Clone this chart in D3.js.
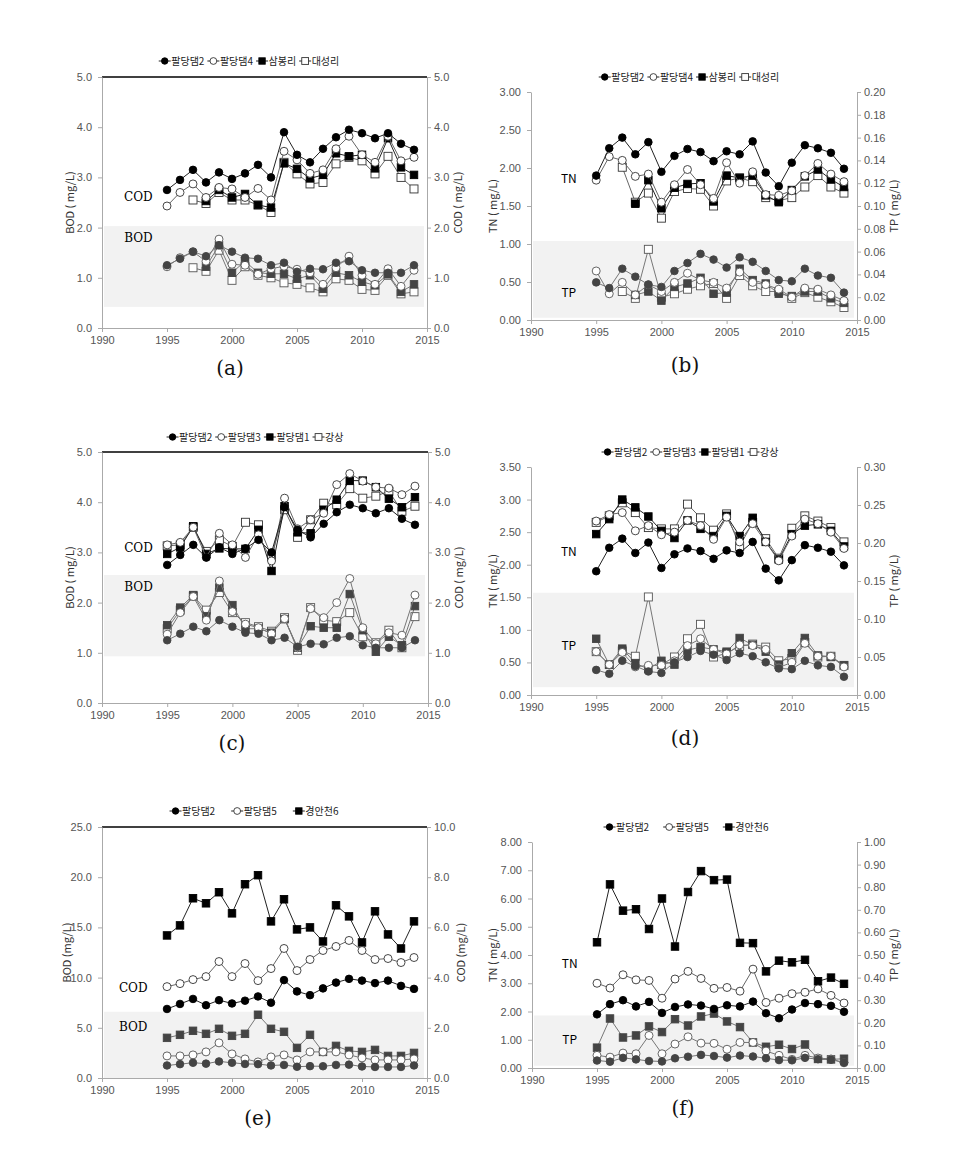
<!DOCTYPE html>
<html><head><meta charset="utf-8">
<script src="https://cdn.jsdelivr.net/npm/d3@7"></script>
<style>body{margin:0;background:#fff;} svg{display:block;}</style>
</head><body><svg id="c" width="953" height="1162"></svg>
<script>
// ---------------- DATA ----------------
const years = [1995,1996,1997,1998,1999,2000,2001,2002,2003,2004,2005,2006,2007,2008,2009,2010,2011,2012,2013,2014];
const xTicks = [1990,1995,2000,2005,2010,2015];

// 팔당댐2
const p2COD = [2.75,2.95,3.15,2.90,3.10,2.97,3.08,3.25,3.00,3.90,3.45,3.30,3.57,3.80,3.95,3.88,3.78,3.88,3.67,3.55];
const p2BOD = [1.25,1.38,1.52,1.43,1.65,1.52,1.40,1.38,1.25,1.30,1.12,1.18,1.17,1.30,1.33,1.15,1.10,1.10,1.10,1.25];
const p2TN  = [1.90,2.26,2.40,2.18,2.34,1.95,2.16,2.25,2.21,2.09,2.22,2.18,2.35,1.94,1.76,2.07,2.30,2.26,2.20,1.99];
const p2TP  = [0.033,0.028,0.045,0.038,0.031,0.029,0.043,0.050,0.058,0.053,0.046,0.055,0.051,0.043,0.035,0.034,0.045,0.039,0.037,0.024];
// 팔당댐4
const p4COD = [2.43,2.70,2.87,2.60,2.80,2.77,2.60,2.78,2.55,3.52,3.35,3.08,3.15,3.57,3.82,3.45,3.30,3.82,3.33,3.40];
const p4BOD = [1.22,1.40,1.52,1.33,1.77,1.27,1.25,1.07,1.18,1.23,1.17,1.10,0.87,1.20,1.43,1.05,0.87,1.18,0.83,1.15];
const p4TN  = [1.84,2.15,2.10,1.89,1.92,1.55,1.78,1.98,1.78,1.60,2.07,1.80,1.95,1.65,1.64,1.70,1.90,2.06,1.92,1.82];
const p4TP  = [0.043,0.023,0.033,0.022,0.031,0.025,0.033,0.041,0.035,0.033,0.028,0.042,0.033,0.031,0.027,0.020,0.028,0.027,0.022,0.017];
// 삼봉리
const sbCOD = [null,null,null,2.53,2.75,2.60,2.67,2.45,2.40,3.28,3.17,2.98,3.05,3.48,3.42,3.45,3.18,3.78,3.20,3.05];
const sbBOD = [null,null,null,1.22,1.65,1.10,1.33,1.10,1.08,1.08,0.98,1.05,0.78,1.10,1.05,0.92,0.85,1.07,0.72,0.87];
const sbTN  = [null,null,null,1.53,1.84,1.47,1.74,1.79,1.80,1.56,1.90,1.87,1.90,1.64,1.55,1.71,1.89,1.98,1.85,1.75];
const sbTP  = [null,null,null,0.022,0.025,0.017,0.029,0.032,0.037,0.023,0.024,0.045,0.035,0.032,0.023,0.021,0.025,0.025,0.019,0.015];
// 대성리
const dsCOD = [null,null,2.55,2.48,2.70,2.55,2.55,2.45,2.30,3.30,3.07,2.87,2.90,3.27,3.40,3.33,3.07,3.42,3.00,2.77];
const dsBOD = [null,null,1.20,1.13,1.55,0.95,1.22,1.05,1.00,0.90,0.87,0.80,0.72,0.98,0.95,0.77,0.75,1.05,0.68,0.72];
const dsTN  = [null,null,2.01,1.55,1.67,1.34,1.69,1.73,1.72,1.50,1.83,1.87,1.82,1.61,1.57,1.61,1.75,1.90,1.75,1.67];
const dsTP  = [null,null,0.025,0.019,0.062,0.020,0.023,0.027,0.030,0.032,0.019,0.039,0.030,0.025,0.025,0.019,0.024,0.020,0.016,0.011];
// 팔당댐3
const p3COD = [3.15,3.20,3.50,2.90,3.38,3.15,2.90,3.35,2.83,4.08,3.47,3.65,3.78,4.35,4.57,4.42,4.30,4.28,4.15,4.32];
const p3BOD = [1.37,1.80,2.12,1.65,2.43,1.82,1.57,1.50,1.38,1.68,1.10,1.88,1.70,2.00,2.48,1.50,1.18,1.40,1.35,2.15];
const p3TN  = [2.67,2.77,2.80,2.52,2.60,2.46,2.50,2.68,2.60,2.39,2.73,2.35,2.63,2.35,2.06,2.44,2.70,2.63,2.50,2.25];
const p3TP  = [0.057,0.040,0.056,0.037,0.039,0.039,0.045,0.065,0.074,0.060,0.054,0.066,0.065,0.060,0.036,0.043,0.068,0.051,0.051,0.037];
// 팔당댐1
const p1COD = [2.97,3.10,3.52,2.97,3.08,3.07,3.07,3.45,2.63,3.92,3.40,3.38,3.85,4.05,4.43,4.43,4.30,4.07,3.90,4.10];
const p1BOD = [1.55,1.90,2.15,1.73,2.30,1.95,1.48,1.48,1.40,1.67,1.10,1.53,1.50,1.50,2.17,1.45,1.02,1.32,1.15,1.93];
const p1TN  = [2.47,2.70,3.00,2.88,2.74,2.52,2.41,2.68,2.55,2.44,2.75,2.44,2.72,2.35,2.08,2.47,2.60,2.62,2.52,2.28];
const p1TP  = [0.074,0.040,0.061,0.042,0.034,0.045,0.040,0.059,0.063,0.060,0.057,0.075,0.066,0.057,0.040,0.055,0.075,0.052,0.050,0.039];
// 강상
const gsCOD = [3.13,3.15,3.50,3.02,3.25,3.12,3.60,3.55,2.92,3.85,3.30,3.65,3.98,3.95,4.27,4.08,4.12,4.22,3.82,3.92];
const gsBOD = [1.48,1.85,2.13,1.85,2.20,1.80,1.60,1.52,1.43,1.70,1.05,1.90,1.65,1.62,1.80,1.32,1.20,1.45,1.10,1.72];
const gsTN  = [2.65,2.75,2.95,2.80,2.57,2.55,2.55,2.93,2.72,2.53,2.78,2.28,2.65,2.40,2.10,2.56,2.75,2.67,2.57,2.35];
const gsTP  = [0.057,0.040,0.058,0.051,0.129,0.040,0.050,0.074,0.093,0.050,0.055,0.064,0.067,0.063,0.045,0.048,0.069,0.050,0.051,0.039];
// 팔당댐5
const p5COD = [3.64,3.76,3.92,4.04,4.64,4.04,4.56,3.88,4.36,5.16,4.28,4.72,5.08,5.24,5.48,5.08,4.72,4.76,4.60,4.80];
const p5BOD = [2.2,2.2,2.3,2.6,3.5,2.4,1.9,1.6,2.1,2.3,1.8,2.6,2.6,2.6,2.3,2.0,1.8,1.8,1.8,1.9];
const p5TN  = [3.00,2.83,3.30,3.12,3.10,2.47,3.15,3.42,3.17,2.82,2.85,2.72,3.50,2.32,2.47,2.63,2.68,2.80,2.57,2.30];
const p5TP  = [0.056,0.048,0.066,0.063,0.144,0.063,0.106,0.138,0.110,0.109,0.083,0.113,0.113,0.075,0.056,0.038,0.056,0.044,0.040,0.023];
// 경안천6
const kaCOD = [5.68,6.08,7.16,6.96,7.40,6.56,7.72,8.08,6.24,7.12,5.92,6.00,5.44,6.88,6.44,5.40,6.64,5.72,5.16,6.24];
const kaBOD = [4.0,4.3,4.7,4.4,4.9,4.2,4.4,6.3,4.9,4.6,3.0,4.3,2.6,3.2,2.7,2.6,2.8,2.2,2.2,2.5];
const kaTN  = [4.45,6.50,5.57,5.62,4.92,6.00,4.30,6.23,6.97,6.65,6.67,4.43,4.42,3.42,3.80,3.74,3.83,3.07,3.20,2.98];
const kaTP  = [0.090,0.219,0.135,0.144,0.184,0.159,0.216,0.188,0.228,0.241,0.206,0.181,0.113,0.094,0.103,0.084,0.104,0.040,0.038,0.041];

// tick label arrays
const ticks0to5 = [0,1,2,3,4,5];
const ticksTN3 = [0,0.5,1,1.5,2,2.5,3];
const ticksTP02 = [0,0.02,0.04,0.06,0.08,0.10,0.12,0.14,0.16,0.18,0.20];
const ticksTN35 = [0,0.5,1,1.5,2,2.5,3,3.5];
const ticksTP03 = [0,0.05,0.10,0.15,0.20,0.25,0.30];
const ticksBOD25 = [0,5,10,15,20,25];
const ticksCOD10 = [0,2,4,6,8,10];
const ticksTN8 = [0,1,2,3,4,5,6,7,8];
const ticksTP1 = [0,0.1,0.2,0.3,0.4,0.5,0.6,0.7,0.8,0.9,1.0];

// ---------------- LAYOUT ----------------
const svg = d3.select('#c');
const sans = "'Noto Sans CJK KR','DejaVu Sans',sans-serif";
const narrow = "'Liberation Sans Narrow','Liberation Sans',Arial,sans-serif";
const serif = "'DejaVu Serif','Liberation Serif',serif";

const panels = [
 {cap:'(a)', capX:230, capY:375, l:102, r:427, t:77, b:328, topLine:true,
  lD:[0,5], rD:[0,5], lT:ticks0to5, rT:ticks0to5, fL:'.1f', fR:'.1f', upAxis:'R', lowAxis:'L',
  band:[0.42,2.03], lTitle:'BOD ( mg/L)', rTitle:'COD ( mg/L)', upLab:'COD', lowLab:'BOD', labFont:serif,
  upPos:[1992.8,2.62], lowPos:[1992.8,1.8], legY:61, legC:249, legGap:3, lTx:32, rTx:31,
  series:[
   {name:'팔당댐2', m:'fc', up:p2COD, low:p2BOD},
   {name:'팔당댐4', m:'oc', up:p4COD, low:p4BOD},
   {name:'삼봉리', m:'fs', up:sbCOD, low:sbBOD},
   {name:'대성리', m:'os', up:dsCOD, low:dsBOD}]},
 {cap:'(b)', capX:685, capY:372, l:531, r:857, t:92, b:320, topLine:false,
  lD:[0,3], rD:[0,0.2], lT:ticksTN3, rT:ticksTP02, fL:'.2f', fR:'.2f', upAxis:'L', lowAxis:'R',
  band:[0.03,1.04], lTitle:'TN ( mg/L)', rTitle:'TP ( mg/L)', upLab:'TN', lowLab:'TP', labFont:sans,
  upPos:[1992.9,1.86], lowPos:[1992.9,0.36], legY:77, legC:689, legGap:3, lTx:38, rTx:37,
  series:[
   {name:'팔당댐2', m:'fc', up:p2TN, low:p2TP},
   {name:'팔당댐4', m:'oc', up:p4TN, low:p4TP},
   {name:'삼봉리', m:'fs', up:sbTN, low:sbTP},
   {name:'대성리', m:'os', up:dsTN, low:dsTP}]},
 {cap:'(c)', capX:232, capY:750, l:102, r:428, t:452, b:703, topLine:true,
  lD:[0,5], rD:[0,5], lT:ticks0to5, rT:ticks0to5, fL:'.1f', fR:'.1f', upAxis:'R', lowAxis:'L',
  band:[0.93,2.55], lTitle:'BOD ( mg/L)', rTitle:'COD ( mg/L)', upLab:'COD', lowLab:'BOD', labFont:serif,
  upPos:[1992.8,3.1], lowPos:[1992.8,2.32], legY:437, legC:255, legGap:3, lTx:32, rTx:31,
  series:[
   {name:'팔당댐2', m:'fc', up:p2COD, low:p2BOD},
   {name:'팔당댐3', m:'oc', up:p3COD, low:p3BOD},
   {name:'팔당댐1', m:'fs', up:p1COD, low:p1BOD},
   {name:'강상', m:'os', up:gsCOD, low:gsBOD}]},
 {cap:'(d)', capX:685, capY:745, l:531, r:857, t:467, b:695, topLine:false,
  lD:[0,3.5], rD:[0,0.3], lT:ticksTN35, rT:ticksTP03, fL:'.2f', fR:'.2f', upAxis:'L', lowAxis:'R',
  band:[0.12,1.57], lTitle:'TN ( mg/L)', rTitle:'TP ( mg/L)', upLab:'TN', lowLab:'TP', labFont:sans,
  upPos:[1992.9,2.2], lowPos:[1992.9,0.76], legY:452, legC:690, legGap:3, lTx:38, rTx:37,
  series:[
   {name:'팔당댐2', m:'fc', up:p2TN, low:p2TP},
   {name:'팔당댐3', m:'oc', up:p3TN, low:p3TP},
   {name:'팔당댐1', m:'fs', up:p1TN, low:p1TP},
   {name:'강상', m:'os', up:gsTN, low:gsTP}]},
 {cap:'(e)', capX:258, capY:1125, l:102, r:427, t:827, b:1078, topLine:true,
  lD:[0,25], rD:[0,10], lT:ticksBOD25, rT:ticksCOD10, fL:'.1f', fR:'.1f', upAxis:'R', lowAxis:'L',
  band:[0,6.6], lTitle:'BOD (mg/L)', rTitle:'COD (mg/L)', upLab:'COD', lowLab:'BOD', labFont:serif,
  upPos:[1992.4,9.0], lowPos:[1992.4,5.1], legY:811, legC:254, legGap:16, lTx:35, rTx:34,
  series:[
   {name:'팔당댐2', m:'fc', up:p2COD, low:p2BOD},
   {name:'팔당댐5', m:'oc', up:p5COD, low:p5BOD},
   {name:'경안천6', m:'fs', up:kaCOD, low:kaBOD}]},
 {cap:'(f)', capX:683, capY:1115, l:532, r:857, t:842, b:1068, topLine:false,
  lD:[0,8], rD:[0,1], lT:ticksTN8, rT:ticksTP1, fL:'.2f', fR:'.2f', upAxis:'L', lowAxis:'R',
  band:[0.08,1.86], lTitle:'TN ( mg/L)', rTitle:'TP ( mg/L)', upLab:'TN', lowLab:'TP', labFont:sans,
  upPos:[1992.9,3.7], lowPos:[1992.9,1.0], legY:827, legC:686, legGap:14, lTx:39, rTx:37,
  series:[
   {name:'팔당댐2', m:'fc', up:p2TN, low:p2TP},
   {name:'팔당댐5', m:'oc', up:p5TN, low:p5TP},
   {name:'경안천6', m:'fs', up:kaTN, low:kaTP}]}
];

function marker(sel, type, cx, cy, lower, sc) {
  sc = sc || 1;
  const filled = type[0] === 'f';
  const fill = filled ? (lower ? '#444' : '#000') : '#fff';
  const stroke = filled ? (lower ? '#444' : '#000') : (lower ? '#555' : '#333');
  if (type[1] === 'c') {
    sel.append('circle').attr('cx', cx).attr('cy', cy).attr('r', (filled ? 3.8 : 4) * sc)
      .attr('fill', fill).attr('stroke', stroke).attr('stroke-width', 0.9);
  } else {
    const s = (filled ? 7.5 : 8) * sc;
    sel.append('rect').attr('x', cx - s/2).attr('y', cy - s/2).attr('width', s).attr('height', s)
      .attr('fill', fill).attr('stroke', stroke).attr('stroke-width', 0.9);
  }
}

function styleAxis(g) {
  g.selectAll('.domain').attr('stroke', '#aaa');
  g.selectAll('.tick line').attr('stroke', '#aaa');
  g.selectAll('.tick text').attr('fill', '#555').style('font-family', narrow).style('font-size', '11px');
}

panels.forEach(p => {
  const g = svg.append('g');
  const x = d3.scaleLinear().domain([1990, 2015]).range([p.l, p.r]);
  const yL = d3.scaleLinear().domain(p.lD).range([p.b, p.t]);
  const yR = d3.scaleLinear().domain(p.rD).range([p.b, p.t]);
  const yUp = p.upAxis === 'L' ? yL : yR;
  const yLow = p.lowAxis === 'L' ? yL : yR;

  // grey band (in left-axis units)
  g.append('rect').attr('x', p.l + 2).attr('width', p.r - p.l - 5)
    .attr('y', yL(p.band[1])).attr('height', yL(p.band[0]) - yL(p.band[1]))
    .attr('fill', '#f2f2f2');

  if (p.topLine) {
    g.append('line').attr('x1', p.l).attr('x2', p.r).attr('y1', p.t).attr('y2', p.t)
      .attr('stroke', '#000').attr('stroke-width', 1.5);
  }

  const gl = g.append('g').attr('transform', `translate(${p.l},0)`)
    .call(d3.axisLeft(yL).tickValues(p.lT).tickFormat(d3.format(p.fL)).tickSize(4).tickSizeOuter(0).tickPadding(6));
  styleAxis(gl);
  const gr = g.append('g').attr('transform', `translate(${p.r},0)`)
    .call(d3.axisRight(yR).tickValues(p.rT).tickFormat(d3.format(p.fR)).tickSize(4).tickSizeOuter(0).tickPadding(3));
  styleAxis(gr);
  const gb = g.append('g').attr('transform', `translate(0,${p.b})`)
    .call(d3.axisBottom(x).tickValues(xTicks).tickFormat(d3.format('d')).tickSize(4).tickSizeOuter(0).tickPadding(4));
  styleAxis(gb);

  // axis titles
  g.append('text').attr('transform', `translate(${p.l - p.lTx},${(p.t + p.b) / 2}) rotate(-90)`)
    .attr('text-anchor', 'middle').attr('dy', '0.35em').style('font-family', sans).style('font-size', '11px').attr('fill', '#333')
    .text(p.lTitle);
  g.append('text').attr('transform', `translate(${p.r + p.rTx},${(p.t + p.b) / 2}) rotate(-90)`)
    .attr('text-anchor', 'middle').attr('dy', '0.35em').style('font-family', sans).style('font-size', '11px').attr('fill', '#333')
    .text(p.rTitle);

  // labels
  g.append('text').attr('x', x(p.upPos[0])).attr('y', yL(p.upPos[1])).attr('dy', '0.35em')
    .attr('text-anchor', 'middle').style('font-family', p.labFont).style('font-size', '12px').text(p.upLab);
  g.append('text').attr('x', x(p.lowPos[0])).attr('y', yL(p.lowPos[1])).attr('dy', '0.35em')
    .attr('text-anchor', 'middle').style('font-family', p.labFont).style('font-size', '12px').text(p.lowLab);

  // series (lower first, then upper); reverse order so first series on top
  const ser = p.series.slice().reverse();
  [['low', yLow, true], ['up', yUp, false]].forEach(([key, ys, lower]) => {
    ser.forEach(s => {
      const pts = years.map((yr, i) => ({yr, v: s[key][i]}));
      const line = d3.line().defined(d => d.v != null).x(d => x(d.yr)).y(d => ys(d.v));
      const filled = s.m[0] === 'f';
      g.append('path').attr('d', line(pts)).attr('fill', 'none')
        .attr('stroke', lower ? '#777' : (filled ? '#222' : '#666')).attr('stroke-width', 1);
      const mg = g.append('g');
      pts.filter(d => d.v != null).forEach(d => marker(mg, s.m, x(d.yr), ys(d.v), lower));
    });
  });

  // legend
  const lg = svg.append('g');
  let cx = 0;
  p.series.forEach((s, i) => {
    const it = lg.append('g').attr('transform', `translate(${cx},0)`);
    it.append('line').attr('x1', 0).attr('x2', 12).attr('y1', 0).attr('y2', 0).attr('stroke', '#222');
    marker(it, s.m, 6, 0, false, 0.85);
    const t = it.append('text').attr('x', 12.5).attr('dy', '0.35em').style('font-family', sans)
      .style('font-size', '10px').attr('fill', '#222').text(s.name);
    cx += 12.5 + t.node().getComputedTextLength() + p.legGap;
  });
  const tot = cx - p.legGap;
  lg.attr('transform', `translate(${p.legC - tot / 2},${p.legY})`);

  // caption
  svg.append('text').attr('x', p.capX).attr('y', p.capY).attr('text-anchor', 'middle')
    .style('font-family', serif).style('font-size', '20px').attr('fill', '#111').text(p.cap);
});
</script>
</body></html>
